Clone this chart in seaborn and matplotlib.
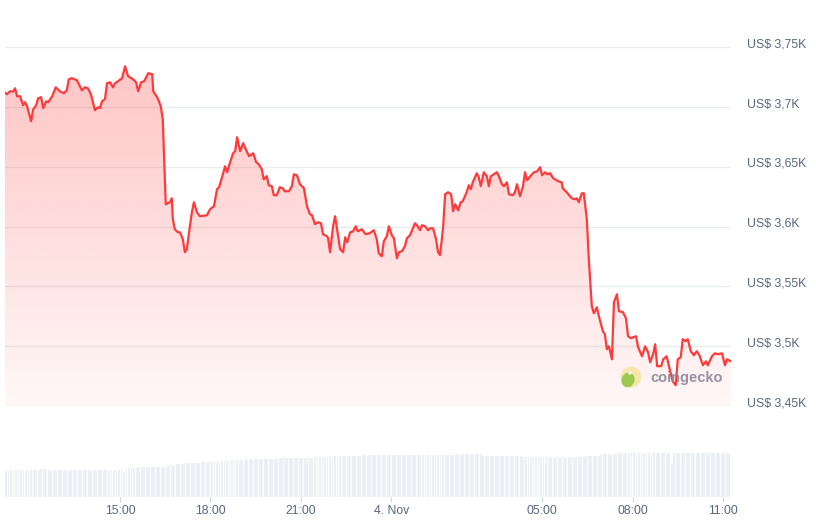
import matplotlib.pyplot as plt
import matplotlib.dates as mdates
import matplotlib.transforms as mtransforms
from matplotlib.patches import Circle, Ellipse
import numpy as np
import pandas as pd
import seaborn as sns

START = pd.Timestamp("2024-11-03 11:11")
END_MINUTES = 1445

# price, minutes after START -> USD
price_minutes = [
    0, 4, 10, 16, 20, 24, 30, 36, 40, 44, 52, 56, 62, 66, 72, 76, 82, 86, 94, 101,
    109, 117, 123, 127, 133, 143, 153, 159, 165, 171, 179, 185, 189, 193, 199, 203, 209, 215, 219, 225,
    233, 239, 245, 255, 261, 265, 271, 277, 285, 293, 295, 304, 310, 314, 320, 328, 332, 334, 338, 344,
    348, 354, 358, 362, 368, 372, 376, 382, 388, 402, 408, 416, 422, 426, 432, 438, 442, 448, 454, 458,
    462, 468, 474, 482, 486, 494, 500, 505, 511, 515, 521, 525, 531, 535, 541, 547, 553, 557, 565, 571,
    575, 581, 587, 595, 601, 607, 611, 617, 623, 629, 633, 641, 643, 647, 653, 657, 661, 667, 673, 677,
    681, 687, 693, 698, 702, 710, 718, 726, 734, 740, 744, 750, 754, 760, 764, 770, 774, 780, 784, 790,
    796, 800, 806, 816, 820, 826, 830, 836, 842, 846, 852, 858, 862, 866, 872, 876, 882, 888, 892, 896,
    902, 907, 911, 919, 923, 927, 931, 939, 943, 947, 953, 959, 963, 967, 979, 983, 989, 993, 999, 1003,
    1011, 1015, 1019, 1025, 1031, 1035, 1039, 1047, 1053, 1059, 1065, 1069, 1075, 1079, 1085, 1091, 1101, 1108, 1110, 1118,
    1128, 1134, 1138, 1142, 1148, 1152, 1158, 1162, 1168, 1172, 1178, 1182, 1190, 1194, 1198, 1202, 1208, 1212, 1218, 1222,
    1230, 1236, 1240, 1246, 1250, 1256, 1260, 1268, 1274, 1280, 1284, 1290, 1294, 1298, 1306, 1310, 1317, 1323, 1329, 1335,
    1339, 1345, 1349, 1355, 1359, 1365, 1371, 1377, 1383, 1389, 1395, 1399, 1407, 1413, 1419, 1427, 1433, 1437, 1445,
]
price_values = [
    3712.3, 3710.9, 3713.4, 3713.1, 3715.9, 3709.2, 3709.2, 3701.7, 3704.2, 3700.8,
    3688.3, 3698.3, 3701.7, 3707.5, 3708.4, 3699.2, 3705.0, 3704.2, 3709.2, 3716.7,
    3713.4, 3711.7, 3714.2, 3723.4, 3724.3, 3722.6, 3714.2, 3716.7, 3715.9, 3710.9,
    3697.5, 3700.0, 3699.2, 3705.0, 3706.7, 3720.1, 3720.9, 3716.7, 3720.1, 3721.8,
    3724.3, 3734.3, 3725.9, 3723.4, 3720.9, 3713.4, 3720.9, 3721.8, 3728.5, 3727.6,
    3713.4, 3707.5, 3700.8, 3690.0, 3618.8, 3620.5, 3623.8, 3606.3, 3597.9, 3595.4,
    3595.4, 3589.5, 3578.7, 3581.2, 3600.4, 3612.1, 3620.5, 3612.1, 3608.8, 3609.6,
    3614.6, 3617.2, 3631.4, 3633.1, 3641.4, 3650.6, 3645.6, 3654.0, 3661.5, 3663.2,
    3674.9, 3663.2, 3669.9, 3662.3, 3659.0, 3661.5, 3654.0, 3652.3, 3648.1, 3639.7,
    3642.3, 3634.7, 3633.9, 3626.4, 3626.4, 3633.1, 3632.2, 3629.7, 3629.7, 3633.9,
    3643.9, 3643.1, 3635.6, 3632.2, 3617.2, 3610.5, 3609.6, 3602.1, 3603.8, 3602.9,
    3593.7, 3592.1, 3590.4, 3578.7, 3600.4, 3608.8, 3597.9, 3581.2, 3578.7, 3591.2,
    3587.0, 3595.4, 3596.2, 3600.4, 3596.2, 3597.9, 3593.7, 3594.6, 3597.1, 3589.5,
    3577.8, 3575.3, 3587.9, 3592.1, 3600.4, 3592.9, 3590.4, 3573.6, 3578.7, 3579.5,
    3583.7, 3590.4, 3592.9, 3602.9, 3601.3, 3597.1, 3601.3, 3600.4, 3597.1, 3598.7,
    3598.7, 3589.5, 3578.7, 3576.2, 3599.6, 3627.2, 3628.9, 3627.2, 3613.0, 3618.8,
    3613.8, 3620.5, 3621.3, 3628.9, 3634.7, 3631.4, 3637.2, 3644.8, 3641.4, 3633.9,
    3645.6, 3642.3, 3633.9, 3642.3, 3645.6, 3642.3, 3635.6, 3633.9, 3637.2, 3627.2,
    3626.4, 3628.9, 3635.6, 3625.5, 3633.9, 3645.6, 3638.9, 3643.1, 3645.6, 3646.4,
    3649.8, 3643.1, 3645.6, 3643.9, 3644.8, 3640.6, 3638.1, 3637.2, 3632.2, 3628.9,
    3623.8, 3623.0, 3623.8, 3620.5, 3628.0, 3628.0, 3606.3, 3572.8, 3533.5, 3527.6,
    3532.6, 3525.1, 3512.6, 3510.0, 3497.5, 3500.0, 3489.1, 3536.8, 3543.5, 3529.3,
    3528.5, 3523.4, 3508.4, 3506.7, 3507.5, 3508.4, 3499.2, 3491.6, 3500.0, 3494.9,
    3486.6, 3493.3, 3501.7, 3483.3, 3483.3, 3489.1, 3491.6, 3480.8, 3470.7, 3467.4,
    3489.1, 3490.8, 3505.9, 3504.2, 3505.9, 3495.8, 3492.5, 3495.8, 3491.6, 3484.1,
    3487.4, 3484.1, 3491.6, 3494.1, 3493.3, 3494.1, 3484.1, 3489.1, 3487.4,
]

# volume bars (5-minute bars), run-length: level and number of bars at that level
vol_levels = [26, 27, 28, 27, 25, 29, 30, 32, 33, 34, 35, 36, 37, 38, 39, 40, 41,
              42, 43, 41, 40, 41, 43, 44, 33, 44]
vol_counts = [2, 12, 3, 30, 1, 5, 12, 3, 3, 7, 8, 4, 6, 12, 15, 8, 11,
              37, 11, 16, 25, 6, 7, 21, 1, 23]

y_ticks = [3450, 3500, 3550, 3600, 3650, 3700, 3750]
y_tick_labels = ["US$ 3,45K", "US$ 3,5K", "US$ 3,55K", "US$ 3,6K",
                 "US$ 3,65K", "US$ 3,7K", "US$ 3,75K"]
x_ticks = ["2024-11-03 15:00", "2024-11-03 18:00", "2024-11-03 21:00",
           "2024-11-04 00:00", "2024-11-04 05:00", "2024-11-04 08:00",
           "2024-11-04 11:00"]
x_tick_labels = ["15:00", "18:00", "21:00", "4. Nov", "05:00", "08:00", "11:00"]

RED = "#ff3a3a"
GRID = "#e8ebef"
LABEL = "#58667e"

sns.set_theme(style="white")
plt.rcParams["font.family"] = ["Liberation Sans", "DejaVu Sans"]

W, H = 816, 527
fig = plt.figure(figsize=(W / 100, H / 100), dpi=100)
fig.patch.set_facecolor("white")

# pixel boxes: left 5, right 731
ax = fig.add_axes([5 / W, (H - 406) / H, 726 / W, 386 / H])
axv = fig.add_axes([5 / W, (H - 497) / H, 726 / W, 57 / H])

price_times = START + pd.to_timedelta(price_minutes, unit="m")
df = pd.DataFrame({"time": price_times, "price": price_values})
x0 = mdates.date2num(START)
x1 = mdates.date2num(START + pd.Timedelta(minutes=END_MINUTES))
ylo, yhi = 3450, 3773

# gradient area under the line
xs = mdates.date2num(df["time"])
poly = ax.fill_between(xs, df["price"], ylo, facecolor="none", edgecolor="none")
alpha = np.linspace(0.33, 0.04, 256)
grad = np.zeros((256, 1, 4))
grad[..., 0] = 1.0
grad[..., 1] = 59 / 255
grad[..., 2] = 59 / 255
grad[..., 3] = alpha[:, None]
im = ax.imshow(grad, extent=[x0, x1, ylo, yhi], aspect="auto", origin="upper",
               interpolation="bilinear", zorder=1)
im.set_clip_path(poly.get_paths()[0], transform=ax.transData)

sns.lineplot(data=df, x="time", y="price", ax=ax, color=RED, linewidth=1.6,
             zorder=3)

ax.set_xlim(x0, x1)
ax.set_ylim(ylo, yhi)
ax.set_yticks(y_ticks, labels=y_tick_labels)
ax.yaxis.tick_right()
ax.tick_params(axis="y", length=0, pad=11.5, labelsize=8.8, labelcolor=LABEL)
for lbl in ax.get_yticklabels():
    lbl.set_va("baseline")
ax.set_xticks([])
ax.grid(axis="y", color=GRID, linewidth=1)
ax.grid(axis="x", visible=False)
ax.set_xlabel("")
ax.set_ylabel("")
for s in ax.spines.values():
    s.set_visible(False)

# watermark
fig.add_artist(Circle((631, H - 377), 10.5, transform=None,
                      facecolor="#f8e4a6", edgecolor="none", alpha=0.9, zorder=5))
fig.add_artist(Ellipse((628, H - 380), 13, 15, angle=-20, transform=None,
                       facecolor="#8cc63f", edgecolor="none", alpha=0.85, zorder=6))
fig.add_artist(Circle((630, H - 373), 1.6, transform=None,
                      facecolor="white", edgecolor="none", zorder=7))
fig.text(650 / W, 1 - 378 / H, "coingecko", fontsize=10.5, fontweight="bold",
         color="#8b8798", alpha=0.9, va="center", ha="left", zorder=8)

# volume bars
vol = np.repeat(vol_levels, vol_counts)
bar_times = START + pd.to_timedelta(np.arange(len(vol)) * 5, unit="m")
axv.bar(mdates.date2num(bar_times), vol, width=3.75 / 1440, align="edge",
        color="#eceff3", linewidth=0)
axv.set_xlim(x0, x1)
axv.set_ylim(0, 57)
axv.set_yticks([])
axv.set_xticks(mdates.date2num(pd.to_datetime(x_ticks)), labels=x_tick_labels)
axv.tick_params(axis="x", length=3.5, width=0.8, color="#ccd6eb", pad=2.5,
                labelsize=8.8, labelcolor=LABEL, bottom=True)
for s in axv.spines.values():
    s.set_visible(False)

fig.savefig("out.png", dpi=100, facecolor="white")
